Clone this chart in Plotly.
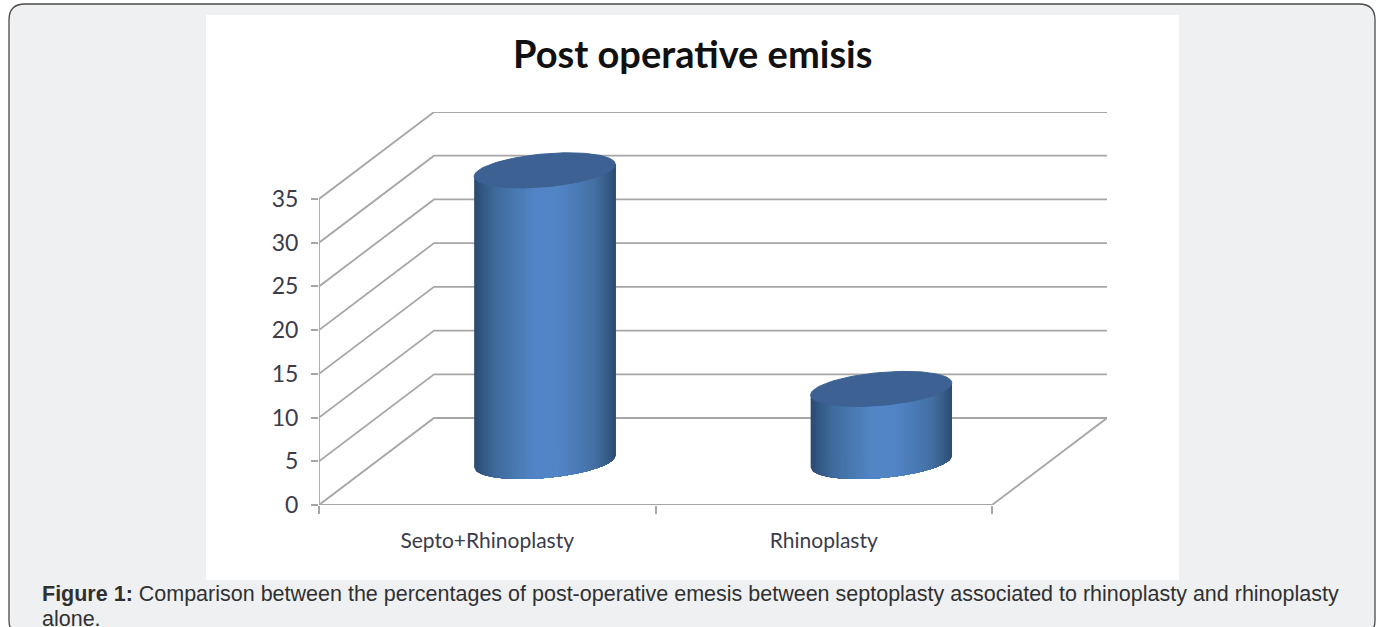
import numpy as np
import plotly.graph_objects as go

# ---------- data ----------
categories = ["Septo+Rhinoplasty", "Rhinoplasty"]
values = [33.3, 8.3]
y_ticks = [0, 5, 10, 15, 20, 25, 30, 35]
title = "Post operative emisis"
caption_1 = "<b>Figure 1:</b> Comparison between the percentages of post-operative emesis between septoplasty associated to rhinoplasty and rhinoplasty"
caption_2 = "alone."

# ---------- layout constants (pixels) ----------
W, H = 1380, 627
L, R, T, B = 319, 1107, 112, 505      # plot area: floor-front-left to back-top-right
CAT_PX = 336.5                        # width of one category
UNIT_PX = 306 / 35                    # height of one y unit
DEPTH_X_PX, DEPTH_Y_PX = 115, 87      # oblique depth offset

x_max = (R - L) / CAT_PX
y_max = (B - T) / UNIT_PX
dx = DEPTH_X_PX / CAT_PX
dy = DEPTH_Y_PX / UNIT_PX
n_cat = len(categories)

px_x = lambda p: (p - L) / (R - L)
px_y = lambda p: (B - p) / (B - T)

GRID = "#a6a6a6"
fig = go.Figure()


def line(xs, ys, color=GRID, width=1.8):
    fig.add_trace(go.Scatter(x=xs, y=ys, mode="lines", line=dict(color=color, width=width),
                             hoverinfo="skip", showlegend=False, cliponaxis=False))


# walls and floor
for v in y_ticks[1:]:
    line([0, dx, x_max], [v, v + dy, v + dy])
line([0, dx, x_max, n_cat, 0], [0, dy, dy, 0, 0])
line([0, 0], [0, y_ticks[-1]])

# cylinders
a = 70.6 / CAT_PX            # half width
b = 16.5 / UNIT_PX           # ellipse minor radius
k = 6.0 / UNIT_PX            # ellipse tilt (right side higher)
STOPS_P = [0.0, 0.06, 0.16, 0.30, 0.42, 0.60, 0.72, 0.85, 0.94, 1.0]
STOPS_R = [0x2a, 0x33, 0x40, 0x4a, 0x52, 0x52, 0x4c, 0x45, 0x38, 0x2c]
STOPS_G = [0x4a, 0x58, 0x6c, 0x7a, 0x85, 0x85, 0x7c, 0x70, 0x5d, 0x4c]
STOPS_B = [0x70, 0x84, 0x9e, 0xb2, 0xc6, 0xc6, 0xb8, 0xa4, 0x8a, 0x72]

for i, val in enumerate(values):
    cx = i + 0.5 + dx / 2
    base = dy / 2
    top = base + val
    strips = 72
    edges = np.linspace(0, 1, strips + 1)
    for s in range(strips):
        p0 = edges[s]
        pm = (edges[s] + edges[s + 1]) / 2
        col = "rgb(%d,%d,%d)" % (np.interp(pm, STOPS_P, STOPS_R),
                                 np.interp(pm, STOPS_P, STOPS_G),
                                 np.interp(pm, STOPS_P, STOPS_B))
        # each strip runs to the far edge and the next one paints over it: no seams
        u = np.linspace(p0, 1, max(3, strips - s + 1))
        c = 2 * u - 1
        low = base - b * np.sqrt(np.clip(1 - c ** 2, 0, 1)) + k * c
        xs = cx + a * c
        px = np.concatenate([xs, xs[::-1]])
        py = np.concatenate([low, (top + k * c)[::-1]])
        fig.add_trace(go.Scatter(x=px, y=py, mode="lines", fill="toself", fillcolor=col,
                                 line=dict(width=0), hoverinfo="skip", showlegend=False))
    t = np.linspace(0, 2 * np.pi, 121)
    fig.add_trace(go.Scatter(x=cx + a * np.cos(t), y=top + b * np.sin(t) + k * np.cos(t),
                             mode="lines", fill="toself", fillcolor="#3c6192",
                             line=dict(color="#3c6192", width=1), hoverinfo="skip",
                             showlegend=False))

# background pieces (in paper coordinates derived from pixels)
x0, x1, y0, y1, r = 9, 1375, 4, 636, 16
border = (f"M {px_x(x0)} {px_y(y0 + r)} "
          f"Q {px_x(x0)} {px_y(y0)} {px_x(x0 + r)} {px_y(y0)} "
          f"L {px_x(x1 - r)} {px_y(y0)} "
          f"Q {px_x(x1)} {px_y(y0)} {px_x(x1)} {px_y(y0 + r)} "
          f"L {px_x(x1)} {px_y(y1 - r)} "
          f"Q {px_x(x1)} {px_y(y1)} {px_x(x1 - r)} {px_y(y1)} "
          f"L {px_x(x0 + r)} {px_y(y1)} "
          f"Q {px_x(x0)} {px_y(y1)} {px_x(x0)} {px_y(y1 - r)} Z")
shapes = [
    dict(type="path", xref="paper", yref="paper", path=border, fillcolor="#eff0f2",
         line=dict(color="#4a4a4a", width=1.3), layer="below"),
    dict(type="rect", xref="paper", yref="paper", x0=px_x(206), x1=px_x(1179),
         y0=px_y(580), y1=px_y(15), fillcolor="white", line=dict(width=0), layer="below"),
]

TICK_FONT = dict(family="Lato, sans-serif", size=23, color="#3b3b4a")
CAP_FONT = dict(family="Liberation Sans, Arial, sans-serif", size=21.5, color="#303030")
annotations = [
    dict(text=title, x=px_x(692), y=px_y(53), xref="paper", yref="paper", showarrow=False,
         xanchor="center", yanchor="middle",
         font=dict(family="Lato, sans-serif", size=38, color="#111111", weight="bold")),
    dict(text=caption_1, x=px_x(40), y=px_y(594), xref="paper", yref="paper", showarrow=False,
         xanchor="left", yanchor="middle", font=CAP_FONT),
    dict(text=caption_2, x=px_x(40), y=px_y(619), xref="paper", yref="paper", showarrow=False,
         xanchor="left", yanchor="middle", font=CAP_FONT),
]

fig.update_layout(
    width=W, height=H, autosize=False,
    margin=dict(l=L, r=W - R, t=T, b=H - B, pad=0),
    paper_bgcolor="white", plot_bgcolor="rgba(0,0,0,0)",
    showlegend=False, shapes=shapes, annotations=annotations,
    xaxis=dict(range=[0, x_max], showgrid=False, zeroline=False, showline=False,
               tickmode="array", tickvals=[i + 0.5 for i in range(n_cat)], ticktext=categories,
               ticks="", tickfont=dict(family="Lato, sans-serif", size=21, color="#3b3b4a"),
               ticklabelstandoff=21,
               minor=dict(tickmode="array", tickvals=list(range(n_cat + 1)), ticks="outside",
                          ticklen=8, tickcolor=GRID, tickwidth=1.8, showgrid=False)),
    yaxis=dict(range=[0, y_max], showgrid=False, zeroline=False, showline=False,
               tickmode="array", tickvals=y_ticks, ticks="outside", ticklen=7,
               tickcolor=GRID, tickwidth=1.8, tickfont=TICK_FONT, ticklabelstandoff=8),
)

fig.write_html("out.html", config=dict(displayModeBar=False),
               post_script="document.body.style.margin='0';")
